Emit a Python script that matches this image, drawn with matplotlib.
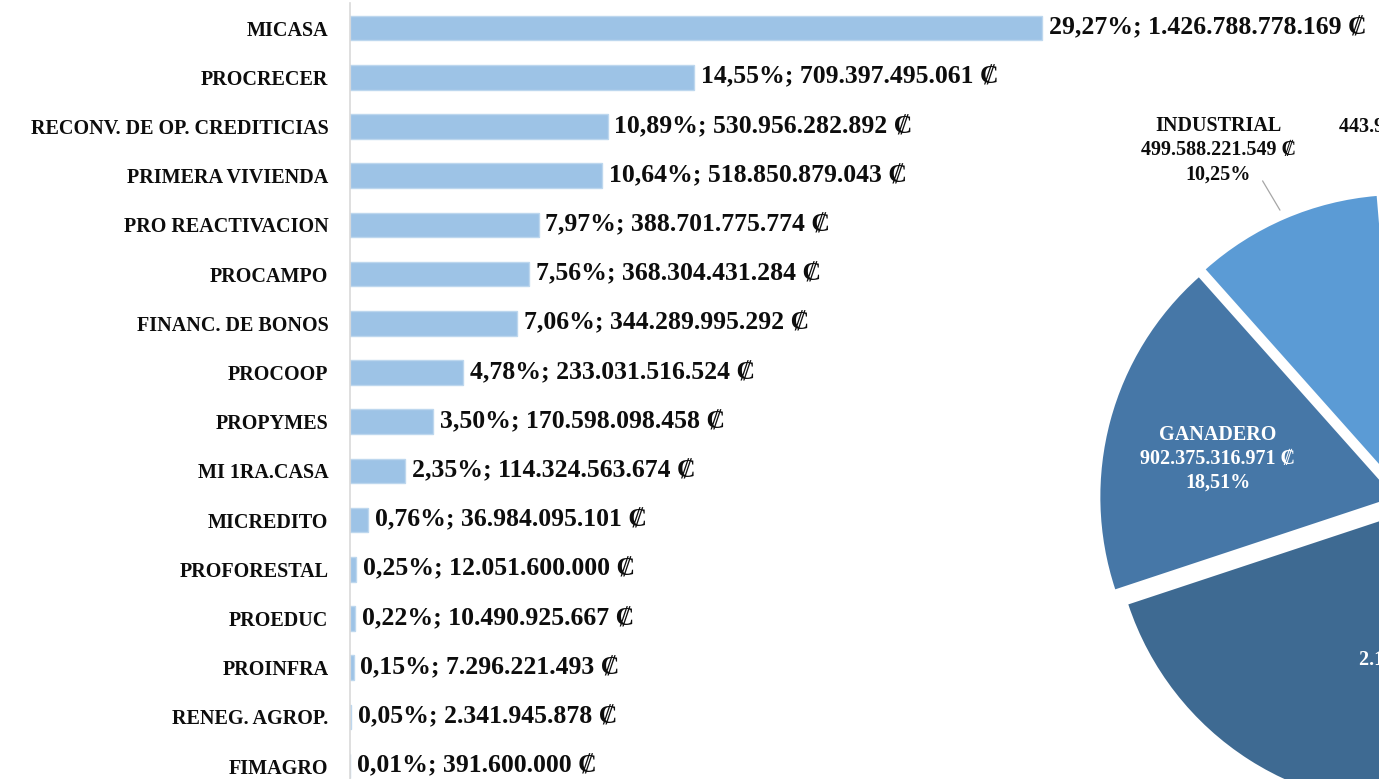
import numpy as np
import matplotlib
matplotlib.use('Agg')
import matplotlib.pyplot as plt

plt.rcParams['font.family'] = ['Liberation Serif', 'DejaVu Serif']
plt.rcParams['font.weight'] = 'bold'

# programas (barras)
programas = ['MICASA', 'PROCRECER', 'RECONV. DE OP. CREDITICIAS', 'PRIMERA VIVIENDA',
             'PRO REACTIVACION', 'PROCAMPO', 'FINANC. DE BONOS', 'PROCOOP', 'PROPYMES',
             'MI 1RA.CASA', 'MICREDITO', 'PROFORESTAL', 'PROEDUC', 'PROINFRA',
             'RENEG. AGROP.', 'FIMAGRO']
montos = [1426788778169, 709397495061, 530956282892, 518850879043, 388701775774,
          368304431284, 344289995292, 233031516524, 170598098458, 114324563674,
          36984095101, 12051600000, 10490925667, 7296221493, 2341945878, 391600000]
porcentajes = [29.27, 14.55, 10.89, 10.64, 7.97, 7.56, 7.06, 4.78, 3.50, 2.35,
               0.76, 0.25, 0.22, 0.15, 0.05, 0.01]

# sectores (torta, solo parte visible)
sectores = ['COMERCIO', 'OTROS', 'INDUSTRIAL', 'GANADERO', 'AGRICOLA']
sector_montos = [907400000000, 443912604117, 499588221549, 902375316971, 2121524500000]
sector_pct = [18.61, 9.11, 10.25, 18.51, 43.52]
sector_colores = ['#9DC3E6', '#8AB6E1', '#5B9BD5', '#4677A7', '#3E6A92']

W, H = 1379, 779
fig = plt.figure(figsize=(W / 100, H / 100), dpi=100)


def px_axes(left, top, width, height):
    return fig.add_axes([left / W, 1 - (top + height) / H, width / W, height / H])


def fmt_monto(v):
    return f"{v:,}".replace(',', '.') + ' ₡'


def fmt_pct(p):
    return f"{p:.2f}%".replace('.', ',')


# ---- barras ----
ax = px_axes(350, 3.4, 1000, 787.2)
y = np.arange(len(programas))
ax.barh(y, montos, height=0.5, color='#9DC3E6', edgecolor='#BDD7EE', linewidth=1)
ax.set_ylim(len(programas) - 0.5, -0.5)
ax.set_xlim(0, montos[0] * 1000 / 692)
ax.set_yticks(y)
ax.set_yticklabels(programas, fontsize=14.5, fontweight='bold', color='#0D0D0D')
ax.tick_params(axis='y', length=0, pad=15.5)
ax.set_xticks([])
for s in ['top', 'right', 'bottom']:
    ax.spines[s].set_visible(False)
ax.spines['left'].set_color('#D9D9D9')
ax.spines['left'].set_linewidth(1.2)
ax.patch.set_alpha(0)

for yi, v, p in zip(y, montos, porcentajes):
    ax.annotate(f"{fmt_pct(p)}; {fmt_monto(v)}", xy=(v, yi), xytext=(5, 0),
                textcoords='offset points', va='center', ha='left',
                fontsize=18.5, fontweight='bold', color='#0D0D0D')

# ---- torta ----
R = 294
cx, cy = 1406, 500
half = 380
pax = px_axes(cx - half, cy - half, 2 * half, 2 * half)
wedges, _ = pax.pie(sector_montos, colors=sector_colores, startangle=-5.0,
                    counterclock=True, explode=[0.041] * len(sectores),
                    wedgeprops=dict(linewidth=0))
L = half / R
pax.set_xlim(-L, L)
pax.set_ylim(-L, L)
pax.set_aspect('equal')
pax.axis('off')


def polar(ang, r):
    a = np.deg2rad(ang)
    return r * np.cos(a), r * np.sin(a)


# posicion de etiquetas (angulo, radio) y color del texto
etiquetas = {
    'COMERCIO': (28.0, 0.62, 'white'),
    'OTROS': (88.5, 1.27, '#0D0D0D'),
    'INDUSTRIAL': (118.2, 1.35, '#0D0D0D'),
    'GANADERO': (167.7, 0.655, 'white'),
    'AGRICOLA': (283.5, 0.56, 'white'),
}
for nombre, m, p in zip(sectores, sector_montos, sector_pct):
    ang, r, col = etiquetas[nombre]
    tx, ty = polar(ang, r)
    pax.text(tx, ty, f"{nombre}\n{fmt_monto(m)}\n{fmt_pct(p)}", ha='center', va='center',
             fontsize=14.5, fontweight='bold', color=col, linespacing=1.27, clip_on=False)

# linea guia de INDUSTRIAL
pax.annotate('', xy=polar(113.5, 1.075), xytext=polar(114.2, 1.19),
             arrowprops=dict(arrowstyle='-', color='#A6A6A6', lw=0.9,
                             shrinkA=0, shrinkB=0))

fig.savefig('out.png', dpi=100)
